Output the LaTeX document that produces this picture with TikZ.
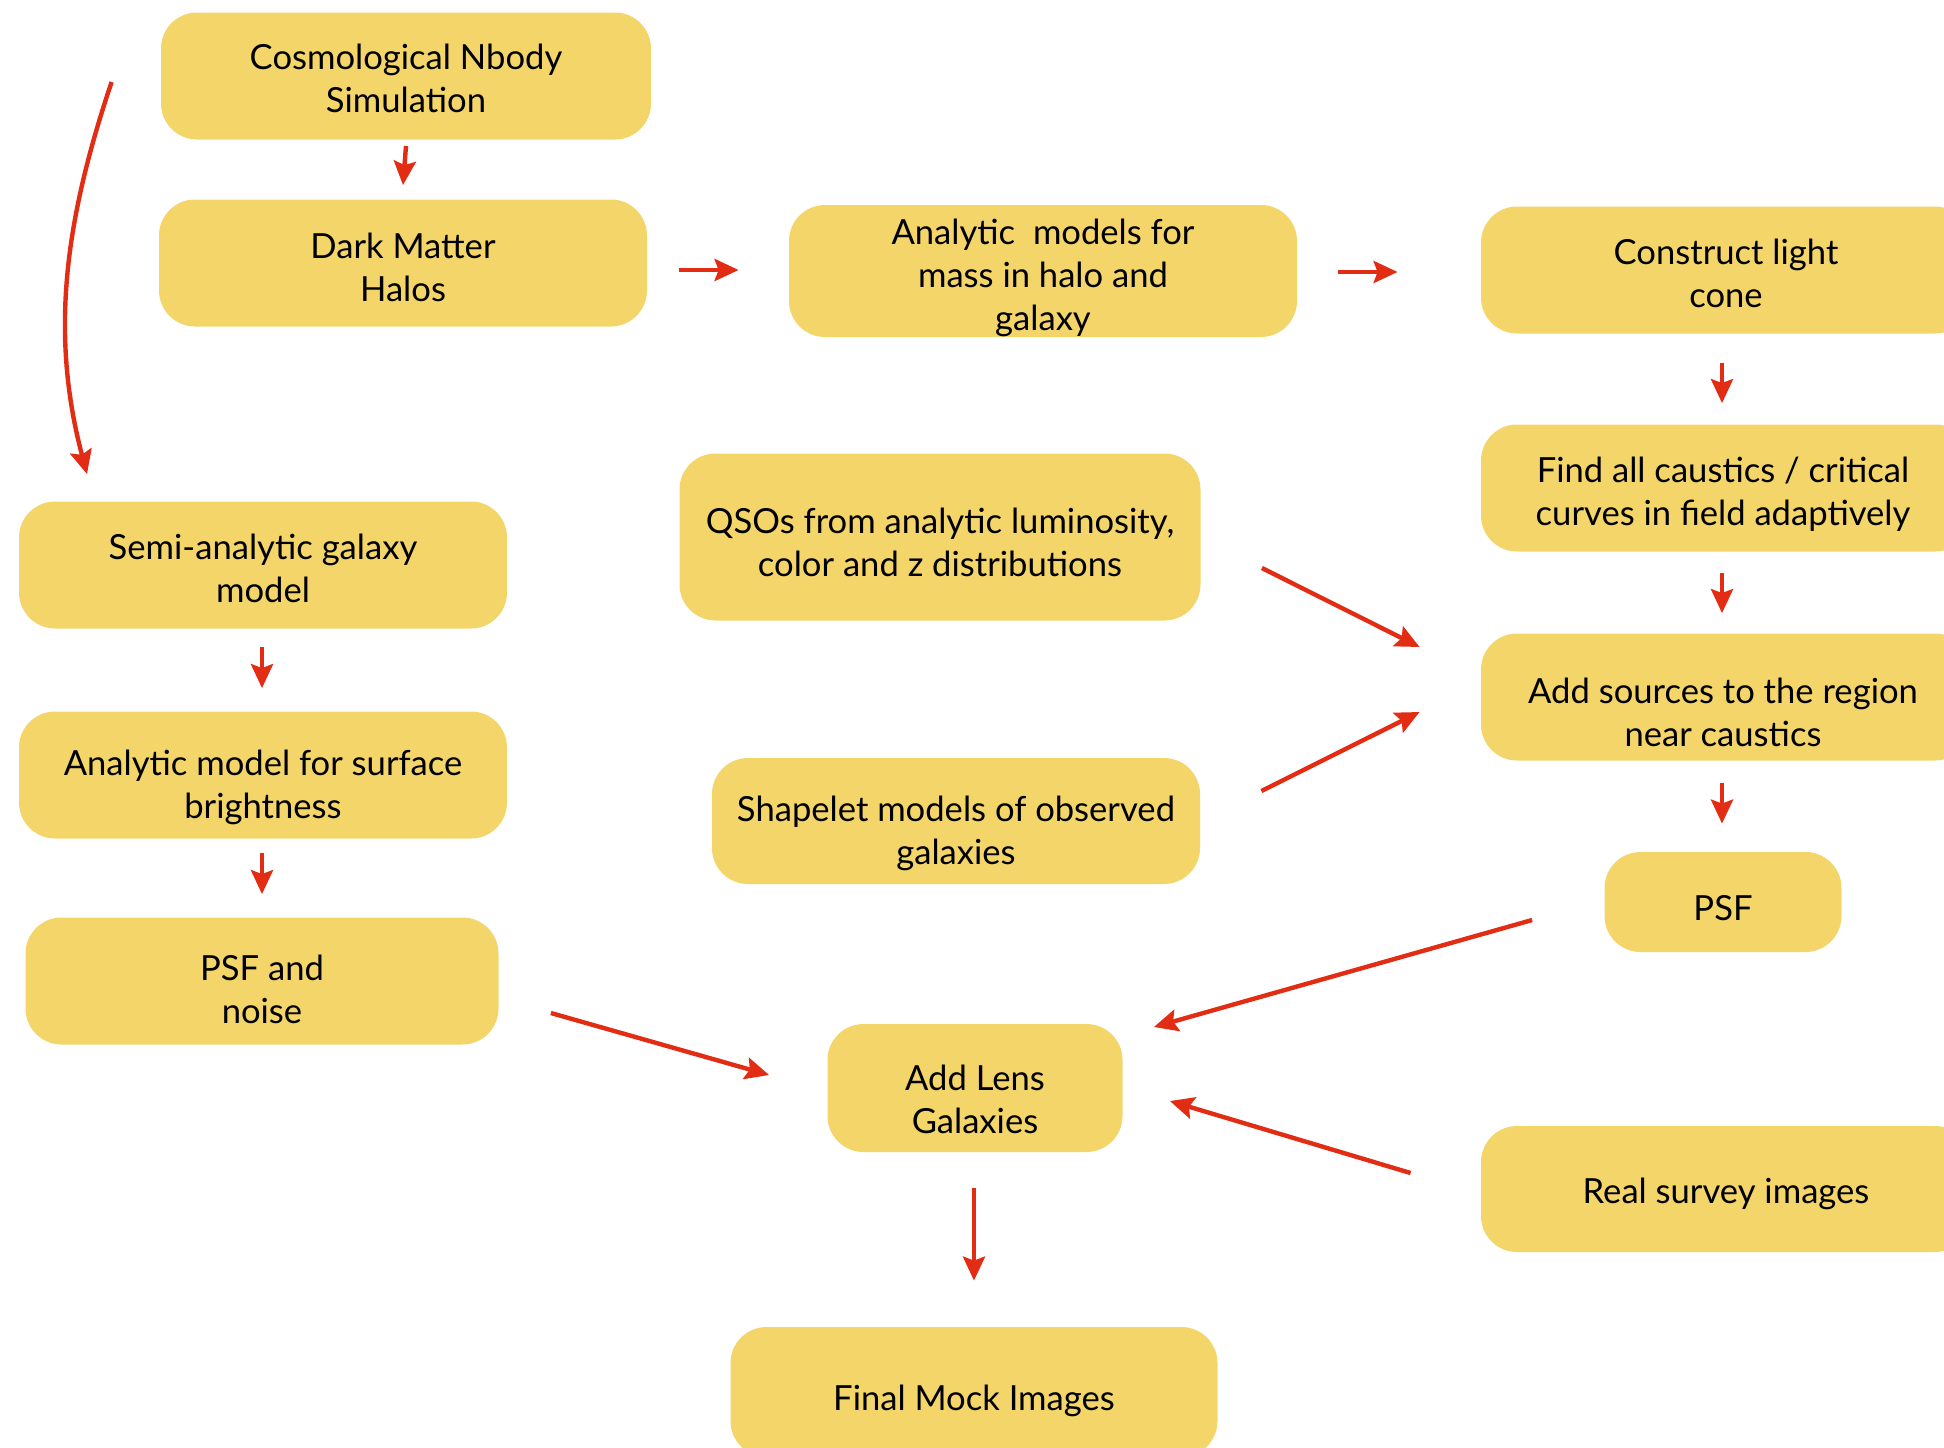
\documentclass[tikz,border=0pt]{standalone}
\usepackage{fontspec}
\setmainfont{Lato}
\usetikzlibrary{arrows.meta,calc}
\definecolor{boxfill}{RGB}{243,213,106}
\definecolor{arrred}{RGB}{226,44,20}
\tikzset{
  box/.style={fill=boxfill, rounded corners=18pt, inner sep=0pt},
  lbl/.style={align=center, inner sep=0pt, text=black,
    font=\fontsize{17.3}{21.6}\selectfont},
  arr/.style={draw=arrred, line width=2.2pt,
    -{Stealth[length=12pt,width=11pt,inset=2pt]}},
}
\begin{document}
\begin{tikzpicture}[x=0.5pt,y=-0.5pt]
\useasboundingbox (0,0) rectangle (1944,1447);
\clip (0,0) rectangle (1944,1447);
% boxes
\node[box, minimum width=245pt, minimum height=63.5pt] (cosmo) at (406,76) {};
\node[box, minimum width=244pt, minimum height=63.5pt] (dm) at (403,263) {};
\node[box, minimum width=254pt, minimum height=66pt] (an) at (1043,271) {};
\node[box, minimum width=245pt, minimum height=63.5pt] (lc) at (1726,270) {};
\node[box, minimum width=245pt, minimum height=63.5pt] (find) at (1726,488) {};
\node[box, minimum width=245pt, minimum height=63.5pt] (add) at (1726,697) {};
\node[box, minimum width=118.5pt, minimum height=50pt] (psf) at (1723,902) {};
\node[box, minimum width=260.5pt, minimum height=83.5pt] (qso) at (940,537) {};
\node[box, minimum width=244pt, minimum height=63pt] (shp) at (956,821) {};
\node[box, minimum width=244pt, minimum height=63.5pt] (semi) at (263,565) {};
\node[box, minimum width=244pt, minimum height=63.5pt] (surf) at (263,775) {};
\node[box, minimum width=236.5pt, minimum height=63.5pt] (psfn) at (262,981) {};
\node[box, minimum width=147.5pt, minimum height=64pt] (lens) at (975,1088) {};
\node[box, minimum width=245pt, minimum height=63pt] (real) at (1726,1189) {};
\node[box, minimum width=243.5pt, minimum height=65pt] (final) at (974,1392) {};
% texts
\node[lbl] (cosmo-t) at ($(cosmo.center)+(0,2)$) {Cosmological Nbody\\Simulation};
\node[lbl] (dm-t) at ($(dm.center)+(0,4)$) {Dark Matter\\Halos};
\node[lbl] (an-t) at ($(an.center)+(0,7)$) {Analytic\ \ models for\\mass in halo and\\galaxy};
\node[lbl] (lc-t) at ($(lc.center)+(0,3)$) {Construct light\\cone};
\node[lbl] (find-t) at ($(find.center)+(-3,6)$) {Find all caustics / critical\\curves in field adaptively};
\node[lbl] (add-t) at ($(add.center)+(-3,15)$) {Add sources to the region\\near caustics};
\node[lbl] (psf-t) at ($(psf.center)+(0,6)$) {PSF};
\node[lbl] (qso-t) at ($(qso.center)+(0,5)$) {QSOs from analytic luminosity,\\color and z distributions};
\node[lbl] (shp-t) at ($(shp.center)+(0,12)$) {Shapelet models of observed\\galaxies};
\node[lbl] (semi-t) at ($(semi.center)+(0,3)$) {Semi-analytic galaxy\\model};
\node[lbl] (surf-t) at ($(surf.center)+(0,12)$) {Analytic model for surface\\brightness};
\node[lbl] (psfn-t) at ($(psfn.center)+(0,8)$) {PSF and\\noise};
\node[lbl] (lens-t) at ($(lens.center)+(0,11)$) {Add Lens\\Galaxies};
\node[lbl] (real-t) at ($(real.center)+(0,5)$) {Real survey images};
\node[lbl] (final-t) at ($(final.center)+(0,9)$) {Final Mock Images};
% connectors
\draw[arr] ($(cosmo.south)+(0,6)$) -- ($(dm.north)+(0,-14)$);
\draw[arr] ($(cosmo.west)+(-49,6)$) .. controls +(-47,140) and +(-37,-140) .. ($(semi.north)+(-176,-27)$);
\draw[arr] ($(dm.east)+(32,7)$) -- ($(an.west)+(-50,-1)$);
\draw[arr] ($(an.east)+(41,1)$) -- ($(lc.west)+(-83,2)$);
\draw[arr] ($(lc.south)+(-4,29)$) -- ($(find.north)+(-4,-21)$);
\draw[arr] ($(find.south)+(-4,21)$) -- ($(add.north)+(-4,-20)$);
\draw[arr] ($(add.south)+(-4,22)$) -- ($(psf.north)+(-1,-28)$);
\draw[arr] ($(qso.east)+(61,31)$) -- ($(add.west)+(-61,-50)$);
\draw[arr] ($(shp.east)+(61,-30)$) -- ($(add.west)+(-61,15)$);
\draw[arr] ($(semi.south)+(-1,18)$) -- ($(surf.north)+(-1,-23)$);
\draw[arr] ($(surf.south)+(-1,14)$) -- ($(psfn.north)+(0,-23)$);
\draw[arr] ($(psfn.east)+(52,32)$) -- ($(lens.west)+(-58,-13)$);
\draw[arr] ($(psf.west)+(-72,18)$) -- ($(lens.east)+(31,-61)$);
\draw[arr] ($(real.west)+(-70,-16)$) -- ($(lens.east)+(47,13)$);
\draw[arr] ($(lens.south)+(-1,36)$) -- ($(final.north)+(0,-46)$);
\end{tikzpicture}
\end{document}
